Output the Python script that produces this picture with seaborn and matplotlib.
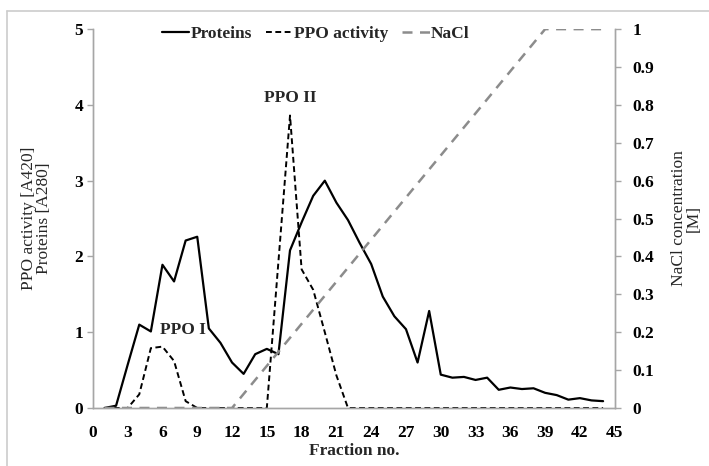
import numpy as np
import pandas as pd
import seaborn as sns
import matplotlib.pyplot as plt
from matplotlib.lines import Line2D

# fraction numbers
fraction = list(range(1, 45))

# proteins [A280]
proteins = [0.0, 0.03, 0.57, 1.10, 1.01, 1.89, 1.67, 2.21, 2.26, 1.05,
            0.86, 0.60, 0.45, 0.71, 0.78, 0.71, 2.08, 2.45, 2.80, 3.00,
            2.71, 2.48, 2.18, 1.90, 1.47, 1.21, 1.04, 0.60, 1.28, 0.44,
            0.40, 0.41, 0.37, 0.40, 0.24, 0.27, 0.25, 0.26, 0.20, 0.17,
            0.11, 0.13, 0.10, 0.09]

# PPO activity [A420]
ppo = [0.0, 0.0, 0.0, 0.18, 0.79, 0.81, 0.62, 0.09, 0.0, 0.0,
       0.0, 0.0, 0.0, 0.0, 0.0, 1.93, 3.86, 1.83, 1.56, 1.0,
       0.43, 0.0, 0.0, 0.0, 0.0, 0.0, 0.0, 0.0, 0.0, 0.0,
       0.0, 0.0, 0.0, 0.0, 0.0, 0.0, 0.0, 0.0, 0.0, 0.0,
       0.0, 0.0, 0.0, 0.0]

# NaCl gradient [M] (break points)
nacl_fraction = [1, 12, 39, 44]
nacl = [0.0, 0.0, 1.0, 1.0]

df = pd.DataFrame({"fraction": fraction, "proteins": proteins, "ppo": ppo})
df_nacl = pd.DataFrame({"fraction": nacl_fraction, "nacl": nacl})

sns.set_style("white")
plt.rcParams['font.family'] = ['Liberation Serif', 'DejaVu Serif']

fig = plt.figure(figsize=(7.09, 4.66), dpi=100)
ax = fig.add_axes([0.131, 0.1245, 0.736, 0.813])
ax2 = ax.twinx()

sns.lineplot(data=df, x="fraction", y="proteins", ax=ax, color="black", lw=1.6, label="Proteins", legend=False)
sns.lineplot(data=df, x="fraction", y="ppo", ax=ax, color="black", lw=1.4, label="PPO activity", legend=False)
ax.lines[1].set_dashes([3, 1.8])
sns.lineplot(data=df_nacl, x="fraction", y="nacl", ax=ax2, color="#8c8c8c", lw=1.8, label="NaCl", legend=False)
ax2.lines[0].set_dashes([4, 3])

gray = "#a6a6a6"
ax.set_xlim(0, 45)
ax.set_ylim(0, 5)
ax2.set_ylim(0, 1)
ax.set_xticks(range(0, 46, 3))
ax.set_yticks(range(0, 6))
ax2.set_yticks(np.arange(0, 1.01, 0.1))
ax2.set_yticklabels(["0", "0.1", "0.2", "0.3", "0.4", "0.5", "0.6", "0.7", "0.8", "0.9", "1"])

for a in (ax, ax2):
    for s in a.spines.values():
        s.set_color(gray)
        s.set_linewidth(1)
    a.spines["top"].set_visible(False)
    a.tick_params(colors=gray, labelcolor="black", labelsize=12.5, width=1)
    for t in a.get_xticklabels() + a.get_yticklabels():
        t.set_fontweight("bold")

ax.tick_params(axis="x", direction="inout", length=6, pad=9)
ax.tick_params(axis="y", direction="out", length=4, pad=3, left=True)
ax2.tick_params(axis="y", direction="out", length=4, pad=9, right=True)

ax.set_xlabel("Fraction no.", fontsize=12.5, fontweight="bold", labelpad=2)
ax.set_ylabel("PPO activity [A420]\nProteins [A280]", fontsize=12.5, labelpad=16, linespacing=0.9)
ax2.set_ylabel("NaCl concentration\n[M]", fontsize=12.5, labelpad=12, rotation=90, linespacing=0.9)

ax.text(7.8, 0.92, "PPO I", fontsize=12.5, fontweight="bold", ha="center", va="bottom")
ax.text(17.0, 3.98, "PPO II", fontsize=12.5, fontweight="bold", ha="center", va="bottom")

handles = ax.lines[:2] + ax2.lines[:1]
leg = ax.legend(handles, ["Proteins", "PPO activity", "NaCl"], loc="upper center",
                bbox_to_anchor=(0.427, 1.05), ncol=3, frameon=False, handlelength=1.6,
                handletextpad=0.05, columnspacing=0.8, prop={"weight": "bold", "size": 12.5})

# light frame round the chart (top and left edges visible in the picture)
fy = 1 - 10.5 / 466
fx = 7.5 / 709
fig.add_artist(Line2D([fx, 1], [fy, fy], transform=fig.transFigure, color="#cccccc", lw=1.2))
fig.add_artist(Line2D([fx, fx], [0, fy], transform=fig.transFigure, color="#cccccc", lw=1.2))

fig.savefig("out.png", dpi=100)
